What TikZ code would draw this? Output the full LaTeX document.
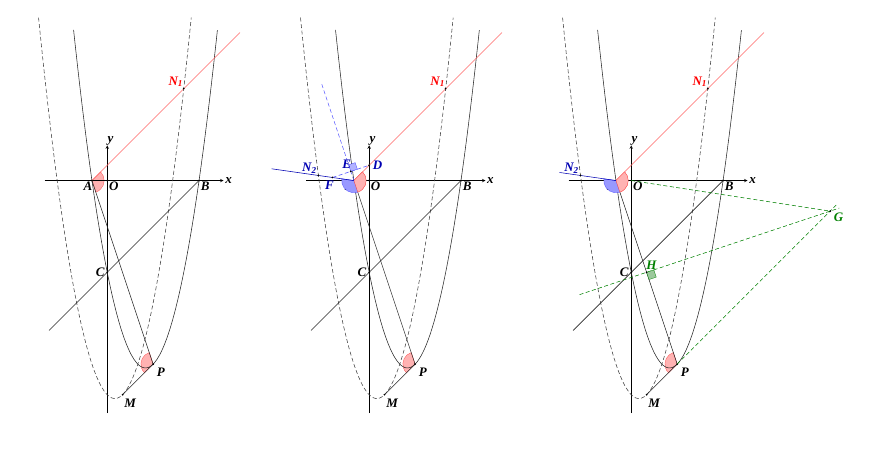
\documentclass[tikz,border=0pt]{standalone}
\usepackage{fontspec}
\setmainfont{Liberation Serif}
\usetikzlibrary{arrows,positioning}

\begin{document}
\begin{tikzpicture}[
        x=15.3pt, y=15.3pt,
        every node/.style={font=\fontsize{13}{14}\selectfont\bfseries\itshape, inner sep=1.5pt},
        every path/.style={line width=0.55pt},
        dot/.style={circle, fill=black, inner sep=0.7pt},
        curve/.style={black!85},
        dcurve/.style={black!75, dash pattern=on 4pt off 2.5pt},
        redline/.style={red!60},
        redarc/.style={fill=red!30, draw=red!70, line width=0.3pt},
        bluearc/.style={fill=blue!40, draw=blue!70, line width=0.3pt},
        blueline/.style={blue!70!black},
        greenline/.style={green!50!black, dash pattern=on 4pt off 2.5pt}
    ]
    \useasboundingbox (-7.01,-18.73) rectangle (50.18,11.80);

    % three copies of the same figure
    \foreach \s/\i in {0/1,17.12/2,34.25/3}{
    \begin{scope}[xshift=\s*15.3pt]
    % Points
    \coordinate (O\i) at (0,0);
    \coordinate (A\i) at (-1,0);
    \coordinate (B\i) at (6,0);
    \coordinate (C\i) at (0,-6);
    \coordinate (P\i) at (3,-12);
    \coordinate (M\i) at (1,-14);
    \coordinate (N1\i) at (5,6);
    \coordinate (xl\i) at (-4.1,0);
    \coordinate (xr\i) at (7.6,0);
    \coordinate (yb\i) at (0,-15.2);
    \coordinate (yt\i) at (0,2.3);
    \coordinate (red\i) at (8.67,9.67);
    \coordinate (bc\i) at (-3.8,-9.8);

    % Arcs
    \filldraw[redarc] (A\i) -- ++(45:0.8) arc[start angle=45, end angle=-71.57, radius=0.8] -- cycle;
    \filldraw[redarc] (P\i) -- ++(108.43:0.8) arc[start angle=108.43, end angle=225, radius=0.8] -- cycle;

    % Axes and curves
    \draw[->, >=stealth] (xl\i) -- (xr\i) node[right] {x};
    \draw[->, >=stealth] (yb\i) -- (yt\i) node[above right=-2pt] {y};
    \draw[curve] plot[domain=-2.2:7.2, samples=80] (\x, {\x*\x-5*\x-6});
    \draw[dcurve] plot[domain=-4.49:5.49, samples=80] (\x, {\x*\x-\x-14});
    \draw[redline] (A\i) -- (red\i);
    \draw[curve] (B\i) -- (bc\i);
    \draw[curve] (A\i) -- (P\i);
    \draw[curve] (M\i) -- (P\i);

    % Labels
    \foreach \p in {O,A,B,C,P,M,N1} \node[dot] at (\p\i) {};
    \node[below left=0pt and -2pt] at (A\i) {A};
    \node[below right=0pt and 0pt] at (O\i) {O};
    \node[below right=0pt and 0pt] at (B\i) {B};
    \node[left=1pt] at (C\i) {C};
    \node[below right=2pt and 2pt] at (P\i) {P};
    \node[below right=2pt and 0pt] at (M\i) {M};
    \node[red, above left=0pt and -1pt] at (N1\i) {N\textsubscript{1}};
    \end{scope}
    }

    % Panel 2
    \begin{scope}[xshift=17.12*15.3pt]
    \coordinate (N22) at (-3.319,0.331);
    \coordinate (bl2) at (-6.38,0.769);
    \coordinate (D2) at (0,1);
    \coordinate (F2) at (-2.4,0.2);
    \coordinate (E2) at (-1.2,0.6);
    \coordinate (up2) at (-3.1,6.3);
    \end{scope}
    \filldraw[bluearc] (A2) -- ++(171.87:0.8) arc[start angle=171.87, end angle=288.43, radius=0.8] -- cycle;
    \filldraw[redarc] (A2) -- ++(45:0.8) arc[start angle=45, end angle=-71.57, radius=0.8] -- cycle;
    \draw[blueline] (bl2) -- (A2);
    \draw[blue!70, dash pattern=on 4pt off 2.5pt] (A2) -- (up2);
    \draw[blue!70, dash pattern=on 4pt off 2.5pt] (F2) -- (D2);
    \filldraw[fill=blue!30, draw=blue!70, line width=0.3pt] (E2) -- ++(18.43:0.45) -- ++(108.43:0.45) -- ++(198.43:0.45) -- cycle;
    \foreach \p in {N2,D,E,F} \node[dot] at (\p2) {};
    \node[blue!70!black, above left=0pt and 0pt] at (N22) {N\textsubscript{2}};
    \node[blue!70!black, above left=1pt and -2pt] at (E2) {E};
    \node[blue!70!black, right=2pt] at (D2) {D};
    \node[blue!70!black, below left=2pt and -3pt] at (F2) {F};

    % Panel 3
    \begin{scope}[xshift=34.25*15.3pt]
    \coordinate (N23) at (-3.319,0.331);
    \coordinate (bl3) at (-4.69,0.527);
    \coordinate (G3) at (13,-2);
    \coordinate (H3) at (1,-6);
    \coordinate (hl3) at (-3.38,-7.46);
    \coordinate (hr3) at (13.6,-1.8);
    \coordinate (pr3) at (13.5,-1.5);
    \end{scope}
    \filldraw[bluearc] (A3) -- ++(171.87:0.8) arc[start angle=171.87, end angle=288.43, radius=0.8] -- cycle;
    \filldraw[redarc] (A3) -- ++(45:0.8) arc[start angle=45, end angle=-71.57, radius=0.8] -- cycle;
    \draw[blueline] (bl3) -- (A3);
    \draw[greenline] (O3) -- (G3);
    \draw[greenline] (hl3) -- (hr3);
    \draw[greenline] (P3) -- (pr3);
    \filldraw[fill=green!30!gray!60, draw=green!50!black, line width=0.3pt] (H3) -- ++(18.43:0.5) -- ++(-71.57:0.5) -- ++(198.43:0.5) -- cycle;
    \foreach \p in {N2,G,H} \node[dot] at (\p3) {};
    \node[blue!70!black, above left=0pt and 0pt] at (N23) {N\textsubscript{2}};
    \node[green!50!black, below right=0pt and 2pt] at (G3) {G};
    \node[green!50!black, above right=1pt and -2pt] at (H3) {H};
\end{tikzpicture}
\end{document}
